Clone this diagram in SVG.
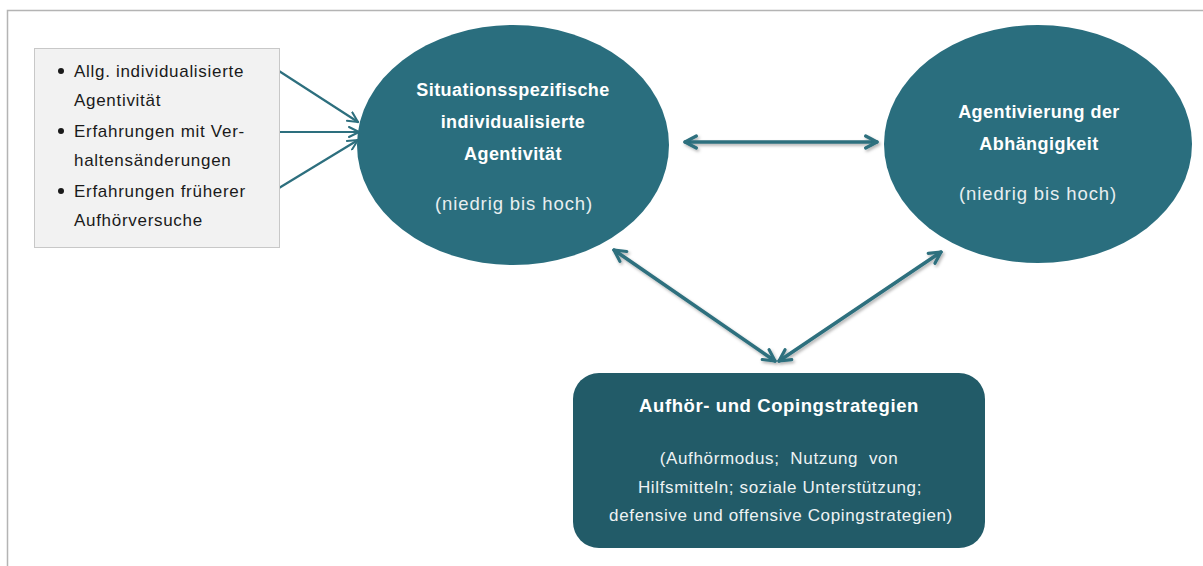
<svg xmlns="http://www.w3.org/2000/svg" width="1203" height="566" viewBox="0 0 1203 566">
  <defs>
    <style>
      .frame { fill: none; stroke: #b4b4b4; stroke-width: 1.5; }
      .ell { fill: #2a6e7e; }
      .box { fill: #f2f2f2; stroke: #c8c8c8; stroke-width: 1; }
      .rbox { fill: #225b68; }
      .lbl { font-family: "Liberation Sans", Arial, sans-serif; text-anchor: middle; fill: #ffffff; }
      .b { font-weight: bold; font-size: 18px; letter-spacing: 0.45px; }
      .t { font-size: 18.5px; letter-spacing: 0.6px; }
      .r { font-size: 18.5px; letter-spacing: 0.9px; fill: #e8eef0; }
      .s { font-size: 17px; letter-spacing: 0.65px; fill: #eef3f4; }
      .list { font-family: "Liberation Sans", Arial, sans-serif; font-size: 17px; letter-spacing: 0.7px; fill: #1a1a1a; }
      .c { fill: none; stroke: #2d6f7e; stroke-linecap: round; stroke-linejoin: round; }
      .thin { stroke-width: 2.2; }
      .thick { stroke-width: 3.5; filter: url(#shadow); }
    </style>
    <filter id="shadow" filterUnits="userSpaceOnUse" x="0" y="0" width="1203" height="566">
      <feDropShadow dx="1.5" dy="2" stdDeviation="1.5" flood-color="#000000" flood-opacity="0.3"/>
    </filter>
    <marker id="hs" viewBox="0 0 12 12" refX="11" refY="6" markerWidth="12" markerHeight="12" markerUnits="userSpaceOnUse" orient="auto">
      <path d="M1,1 L11,6 L1,11" fill="none" stroke="#2d6f7e" stroke-width="2" stroke-linecap="round" stroke-linejoin="round"/>
    </marker>
    <marker id="hb" viewBox="0 0 12 12" refX="10.5" refY="6" markerWidth="16" markerHeight="16" markerUnits="userSpaceOnUse" orient="auto-start-reverse">
      <path d="M2,1.5 L10.5,6 L2,10.5" fill="none" stroke="#2d6f7e" stroke-width="2.4" stroke-linecap="round" stroke-linejoin="round"/>
    </marker>
  </defs>

  <!-- open page frame -->
  <path class="frame" d="M7.5,566 L7.5,10.5 L1203,10.5"/>

  <g id="connectors">
    <line class="c thin" x1="279" y1="71" x2="358" y2="122" marker-end="url(#hs)"/>
    <line class="c thin" x1="279" y1="132" x2="359" y2="132" marker-end="url(#hs)"/>
    <line class="c thin" x1="279" y1="188" x2="358" y2="140" marker-end="url(#hs)"/>
    <line class="c thick" x1="685" y1="142" x2="877" y2="142" marker-start="url(#hb)" marker-end="url(#hb)"/>
    <line class="c thick" x1="614" y1="250" x2="775" y2="361" marker-start="url(#hb)" marker-end="url(#hb)"/>
    <line class="c thick" x1="941" y1="252" x2="779" y2="361" marker-start="url(#hb)" marker-end="url(#hb)"/>
  </g>

  <g id="einflussfaktoren">
    <rect class="box" x="34.5" y="48.5" width="245" height="199"/>
    <circle cx="61" cy="71" r="3" fill="#1a1a1a"/>
    <circle cx="61" cy="131" r="3" fill="#1a1a1a"/>
    <circle cx="61" cy="191" r="3" fill="#1a1a1a"/>
    <text class="list" x="74" y="77">Allg. individualisierte</text>
    <text class="list" x="74" y="106">Agentivität</text>
    <text class="list" x="74" y="137">Erfahrungen mit Ver-</text>
    <text class="list" x="74" y="166">haltensänderungen</text>
    <text class="list" x="74" y="197">Erfahrungen früherer</text>
    <text class="list" x="74" y="226">Aufhörversuche</text>
  </g>

  <g id="agentivitaet">
    <ellipse class="ell" cx="513" cy="145" rx="156" ry="120"/>
    <text class="lbl b" x="513" y="96">Situationsspezifische</text>
    <text class="lbl b" x="513" y="128">individualisierte</text>
    <text class="lbl b" x="513" y="160">Agentivität</text>
    <text class="lbl r" x="514" y="210">(niedrig bis hoch)</text>
  </g>

  <g id="abhaengigkeit">
    <ellipse class="ell" cx="1038" cy="144" rx="154" ry="119"/>
    <text class="lbl b" x="1039" y="118">Agentivierung der</text>
    <text class="lbl b" x="1039" y="150">Abhängigkeit</text>
    <text class="lbl r" x="1038" y="200">(niedrig bis hoch)</text>
  </g>

  <g id="strategien">
    <rect class="rbox" x="573" y="373" width="412" height="175" rx="26" ry="26"/>
    <text class="lbl b t" x="779" y="412">Aufhör- und Copingstrategien</text>
    <text class="lbl s" x="779" y="464" xml:space="preserve">(Aufhörmodus;  Nutzung  von</text>
    <text class="lbl s" x="780" y="493">Hilfsmitteln; soziale Unterstützung;</text>
    <text class="lbl s" x="781" y="521">defensive und offensive Copingstrategien)</text>
  </g>
</svg>
